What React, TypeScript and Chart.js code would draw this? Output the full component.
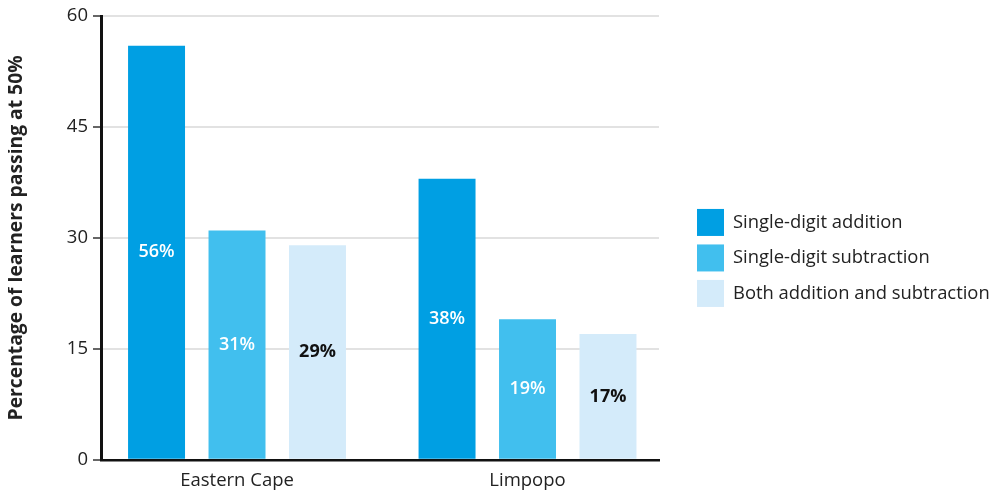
import React, { useEffect, useRef } from 'react';
import { Chart, registerables } from 'chart.js';

Chart.register(...registerables);

const categories = ['Eastern Cape', 'Limpopo'];
const seriesNames = ['Single-digit addition', 'Single-digit subtraction', 'Both addition and subtraction'];
const additionValues = [56, 38];
const subtractionValues = [31, 19];
const bothValues = [29, 17];
const yTickValues = [0, 15, 30, 45, 60];
const yAxisTitle = 'Percentage of learners passing at 50%';

const seriesColors = ['#009fe3', '#41bfee', '#d4ebfa'];
const labelColors = ['#ffffff', '#ffffff', '#111111'];
const labelWeights = ['600', '600', '700'];
const FONT = '"Open Sans", "Noto Sans", sans-serif';

const barLabels = {
  id: 'barLabels',
  afterDatasetsDraw(chart: any) {
    const ctx = chart.ctx;
    ctx.save();
    ctx.textAlign = 'center';
    ctx.textBaseline = 'middle';
    chart.data.datasets.forEach((ds: any, i: number) => {
      const meta = chart.getDatasetMeta(i);
      ctx.font = `${labelWeights[i]} 18px ${FONT}`;
      ctx.fillStyle = labelColors[i];
      meta.data.forEach((el: any, j: number) => {
        const { x, y, base } = el.getProps(['x', 'y', 'base'], true);
        ctx.fillText(`${ds.data[j]}%`, x, (y + base) / 2);
      });
    });
    ctx.restore();
  },
};

// Legend drawn to the right of the chart area from the datasets
const sideLegend = {
  id: 'sideLegend',
  afterDraw(chart: any) {
    const ctx = chart.ctx;
    const area = chart.chartArea;
    const box = 27;
    const gap = 8.5;
    const n = chart.data.datasets.length;
    const total = n * box + (n - 1) * gap;
    const left = area.right + 38;
    let top = (area.top + area.bottom) / 2 - total / 2 + 20;
    ctx.save();
    ctx.font = `18.4px ${FONT}`;
    ctx.textBaseline = 'middle';
    ctx.textAlign = 'left';
    chart.data.datasets.forEach((ds: any) => {
      ctx.fillStyle = ds.backgroundColor;
      ctx.fillRect(left, top, box, box);
      ctx.fillStyle = '#222';
      ctx.fillText(ds.label, left + box + 9, top + box / 2);
      top += box + gap;
    });
    ctx.restore();
  },
};

export default function App() {
  const ref = useRef<HTMLCanvasElement | null>(null);

  useEffect(() => {
    if (!ref.current) return;
    const seriesValues = [additionValues, subtractionValues, bothValues];
    const chart = new Chart(ref.current, {
      type: 'bar',
      data: {
        labels: categories,
        datasets: seriesNames.map((name, i) => ({
          label: name,
          data: seriesValues[i],
          backgroundColor: seriesColors[i],
          borderWidth: 0,
          categoryPercentage: 0.831,
          barPercentage: 0.708,
        })),
      },
      options: {
        responsive: false,
        animation: false,
        maintainAspectRatio: false,
        layout: { padding: { top: 15, left: 0, right: 340, bottom: -4 } },
        plugins: {
          tooltip: { enabled: false },
          legend: { display: false },
        },
        scales: {
          x: {
            type: 'category',
            offset: true,
            grid: { display: false, drawTicks: false },
            border: { display: true, color: '#111', width: 2.5 },
            ticks: { color: '#222', font: { family: FONT, size: 18.5, lineHeight: 1.2 }, padding: 10 },
            afterBuildTicks: (s: any) => {
              s._startValue = -0.4682;
              s._valueRange = 1.9208;
            },
          },
          y: {
            type: 'linear',
            min: 0,
            max: 60,
            afterBuildTicks: (s: any) => {
              s.ticks = yTickValues.map((v) => ({ value: v }));
            },
            ticks: { color: '#222', font: { family: FONT, size: 18.5 }, padding: 5 },
            grid: { color: '#e2e2e2', lineWidth: 2, tickLength: 8, tickColor: '#333', tickWidth: 1.5 },
            border: { display: true, color: '#111', width: 3 },
            title: {
              display: true,
              text: yAxisTitle,
              color: '#222',
              font: { family: FONT, size: 19.3, weight: 'bold' },
              padding: { top: 4.5, bottom: 0 },
            },
            afterFit: (s: any) => {
              s.width = 101;
            },
          },
        },
      },
      plugins: [barLabels, sideLegend],
    });
    return () => chart.destroy();
  }, []);

  return (
    <div style={{ margin: -8, width: 999, height: 498, overflow: 'hidden' }}>
      <canvas ref={ref} width={999} height={498} style={{ display: 'block', width: 999, height: 498 }} />
    </div>
  );
}
